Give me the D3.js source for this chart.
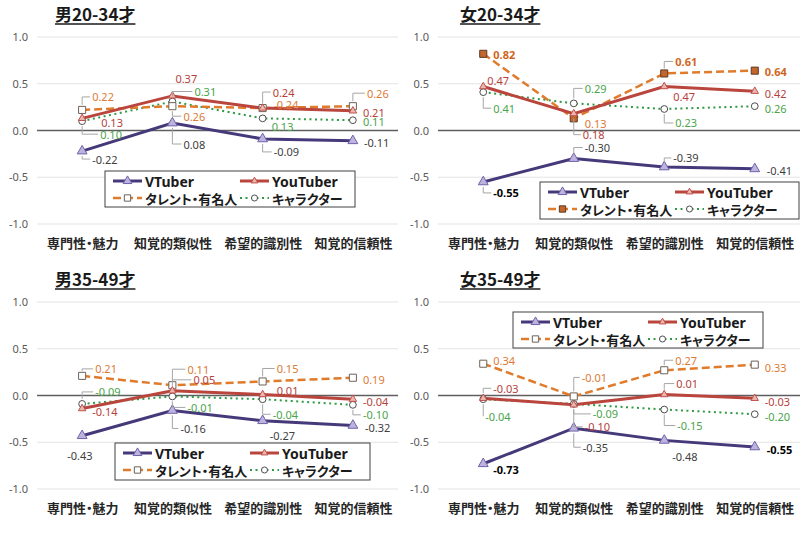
<!DOCTYPE html>
<html>
<head>
<meta charset="utf-8">
<script src="https://cdn.jsdelivr.net/npm/d3@7"></script>
<style>
body { margin: 0; background: #fff; }
svg { display: block; }
</style>
</head>
<body>
<svg id="chart" width="810" height="538"></svg>
<script>
// categories, series and panel titles
var categories = ["専門性・魅力", "知覚的類似性", "希望的識別性", "知覚的信頼性"];
var seriesNames = ["VTuber", "YouTuber", "タレント・有名人", "キャラクター"];
var panelTitles = ["男20-34才", "女20-34才", "男35-49才", "女35-49才"];
var yTicks = [1.0, 0.5, 0.0, -0.5, -1.0];

// values per series, one row per panel (男20-34, 女20-34, 男35-49, 女35-49)
var vtuber    = [[-0.22, 0.08, -0.09, -0.11], [-0.55, -0.30, -0.39, -0.41], [-0.43, -0.16, -0.27, -0.32], [-0.73, -0.35, -0.48, -0.55]];
var youtuber  = [[0.13, 0.37, 0.24, 0.21],   [0.47, 0.18, 0.47, 0.42],     [-0.14, 0.05, 0.01, -0.04],   [-0.03, -0.10, 0.01, -0.03]];
var talent    = [[0.22, 0.26, 0.24, 0.26],   [0.82, 0.13, 0.61, 0.64],     [0.21, 0.11, 0.15, 0.19],     [0.34, -0.01, 0.27, 0.33]];
var character = [[0.10, 0.31, 0.13, 0.11],   [0.41, 0.29, 0.23, 0.26],     [-0.09, -0.01, -0.04, -0.10], [-0.04, -0.09, -0.15, -0.20]];
var allSeries = [vtuber, youtuber, talent, character];

// panel layout
var panels = [
  {ox: 0,   oy: 0,   x0: 37, x1: 398, lg: [105, 171, 250, 36]},
  {ox: 405, oy: 0,   x0: 33, x1: 395, lg: [135, 182, 259, 37]},
  {ox: 0,   oy: 265, x0: 37, x1: 398, lg: [115, 178, 255, 37]},
  {ox: 405, oy: 265, x0: 33, x1: 395, lg: [108, 47, 250, 36]}
];

// data label offsets [dx, dy, leader] per panel / series / category
var labelPos = [
  [[[10,8,1],[11,21,1],[11,13,1],[11,2,0]],
   [[19,4,0],[3,-17,0],[10,-16,1],[10,2,0]],
   [[10,-13,1],[11,10,1],[14,-4,0],[14,-13,1]],
   [[18,13,1],[22,-10,1],[9,8,0],[10,1,0]]],
  [[[10,11,1],[11,-11,1],[9,-9,1],[12,2,0]],
   [[4,-6,0],[9,21,1],[9,10,0],[10,2,0]],
   [[10,1,0],[11,5,0],[11,-12,1],[10,1,0]],
   [[10,16,1],[11,-15,1],[11,14,1],[10,2,0]]],
  [[[-15,20,0],[8,18,1],[7,15,0],[12,2,0]],
   [[10,3,0],[21,-11,1],[14,-4,0],[10,2,0]],
   [[13,-7,1],[15,-16,1],[14,-13,1],[10,2,0]],
   [[13,-12,1],[15,11,1],[10,15,1],[10,10,1]]],
  [[[10,6,0],[9,19,1],[8,16,0],[12,3,0]],
   [[10,-10,1],[11,22,1],[12,-11,1],[10,3,0]],
   [[10,-3,0],[8,-19,1],[11,-10,1],[10,3,0]],
   [[2,17,1],[19,10,1],[13,16,1],[10,2,0]]]
];
var boldLabels = ["1-0-0", "1-2-0", "1-2-2", "1-2-3", "3-0-0", "3-0-3"];

var styles = [
  {color: "#46397a", width: 3,   dash: null,  sym: d3.symbolTriangle, size: 42, fill: "#bdb3de", stroke: "#6f63a8", label: "#404040"},
  {color: "#b9453d", width: 3,   dash: null,  sym: d3.symbolTriangle, size: 24, fill: "#eab7ad", stroke: "#c0504d", label: "#b5423c"},
  {color: "#e07b2c", width: 2.5, dash: "8,4", sym: d3.symbolSquare,   size: 50, fill: "#ffffff", stroke: "#6e6258", label: "#dd7a35"},
  {color: "#2f9a44", width: 2,   dash: "2,3.5", sym: d3.symbolCircle, size: 36, fill: "#ffffff", stroke: "#4d4d4d", label: "#4aa54a"}
];

var svg = d3.select("#chart");
var fmt = function (v) { return v.toFixed(2); };

function markerStyle(p, s) {
  var st = styles[s];
  if (p === 1 && s === 2) return {fill: "#c4652b", stroke: "#5b3a20"};
  return {fill: st.fill, stroke: st.stroke};
}

panels.forEach(function (pn, p) {
  var g = svg.append("g");
  var y = d3.scaleLinear().domain([-1, 1]).range([pn.oy + 224, pn.oy + 37]);
  var x = d3.scalePoint().domain(categories).range([pn.ox + pn.x0, pn.ox + pn.x1]).padding(0.5);

  // gridlines
  g.selectAll(".grid").data(yTicks.filter(function (d) { return d !== 0; })).enter()
    .append("line")
    .attr("x1", pn.ox + pn.x0).attr("x2", pn.ox + pn.x1)
    .attr("y1", function (d) { return y(d); }).attr("y2", function (d) { return y(d); })
    .style("stroke", "#e3e3e3").style("stroke-width", 1);

  // y axis
  var ya = g.append("g").attr("transform", "translate(" + (pn.ox + pn.x0 - 6) + ",0)")
    .call(d3.axisLeft(y).tickValues(yTicks).tickFormat(function (d) { return d.toFixed(1); }).tickSize(0));
  ya.select(".domain").remove();
  ya.selectAll("text").style("font-family", "'Noto Sans', sans-serif").style("font-size", "11px").style("fill", "#595959");

  // x axis labels
  var xa = g.append("g").attr("transform", "translate(0," + (pn.oy + 236) + ")")
    .call(d3.axisBottom(x).tickSize(0));
  xa.select(".domain").remove();
  xa.selectAll("text").style("font-family", "'Noto Sans CJK JP', sans-serif")
    .style("font-size", "13px").style("font-weight", "bold").style("fill", "#262626")
    .style("font-feature-settings", "'palt'");

  // zero line
  g.append("line")
    .attr("x1", pn.ox + pn.x0).attr("x2", pn.ox + pn.x1)
    .attr("y1", y(0)).attr("y2", y(0))
    .style("stroke", "#5f5f5f").style("stroke-width", 1.5);

  // title
  var t = g.append("text")
    .attr("x", pn.ox + 55).attr("y", pn.oy + 21)
    .style("font-family", "'Noto Sans CJK JP', sans-serif")
    .style("font-size", "17px").style("font-weight", "bold").style("fill", "#1a1a1a")
    .text(panelTitles[p]);
  var tw = t.node().getComputedTextLength();
  g.append("line")
    .attr("x1", pn.ox + 55).attr("x2", pn.ox + 55 + tw)
    .attr("y1", pn.oy + 24).attr("y2", pn.oy + 24)
    .style("stroke", "#1a1a1a").style("stroke-width", 1.3);

  var line = d3.line()
    .x(function (d, i) { return x(categories[i]); })
    .y(function (d) { return y(d); });

  // lines (draw in reverse so VTuber sits on top)
  [3, 2, 1, 0].forEach(function (s) {
    var st = styles[s];
    g.append("path")
      .attr("d", line(allSeries[s][p]))
      .style("fill", "none")
      .style("stroke", st.color)
      .style("stroke-width", st.width)
      .style("stroke-dasharray", st.dash);
  });

  // markers
  [3, 2, 1, 0].forEach(function (s) {
    var st = styles[s];
    var ms = markerStyle(p, s);
    g.selectAll(".m" + s).data(allSeries[s][p]).enter()
      .append("path")
      .attr("d", d3.symbol().type(st.sym).size(st.size))
      .attr("transform", function (d, i) { return "translate(" + x(categories[i]) + "," + y(d) + ")"; })
      .style("fill", ms.fill).style("stroke", ms.stroke).style("stroke-width", 1);
  });

  // leader lines and data labels
  allSeries.forEach(function (ser, s) {
    var st = styles[s];
    ser[p].forEach(function (v, i) {
      var off = labelPos[p][s][i];
      var px = x(categories[i]), py = y(v);
      var lx = px + off[0], ly = py + off[1];
      if (off[2]) {
        var sg = off[1] > 0 ? 1 : -1;
        g.append("path")
          .attr("d", "M" + px + "," + (py + sg * 5) + "V" + ly + "H" + (lx - 2))
          .style("fill", "none").style("stroke", "#a6a6a6").style("stroke-width", 1);
      }
      var bold = boldLabels.indexOf(p + "-" + s + "-" + i) >= 0;
      var col = st.label;
      if (bold && s === 0) col = "#000000";
      if (bold && s === 2) col = "#d0661e";
      g.append("text")
        .attr("x", lx).attr("y", ly)
        .attr("dominant-baseline", "central")
        .style("font-family", "'Noto Sans', sans-serif")
        .style("font-size", "11px")
        .style("font-weight", bold ? "bold" : "normal")
        .style("fill", col)
        .text(fmt(v));
    });
  });

  // legend
  var lg = pn.lg;
  var lx0 = pn.ox + lg[0], ly0 = pn.oy + lg[1];
  g.append("rect")
    .attr("x", lx0).attr("y", ly0).attr("width", lg[2]).attr("height", lg[3])
    .style("fill", "#ffffff").style("stroke", "#404040").style("stroke-width", 1);
  seriesNames.forEach(function (name, s) {
    var st = styles[s];
    var ms = markerStyle(p, s);
    var cx = lx0 + (s % 2 === 0 ? 8 : 135);
    var cy = ly0 + (s < 2 ? 10 : 27);
    g.append("line")
      .attr("x1", cx).attr("x2", cx + 29).attr("y1", cy).attr("y2", cy)
      .style("stroke", st.color).style("stroke-width", st.width)
      .style("stroke-dasharray", st.dash);
    g.append("path")
      .attr("d", d3.symbol().type(st.sym).size(st.size * 0.8))
      .attr("transform", "translate(" + (cx + 14.5) + "," + cy + ")")
      .style("fill", ms.fill).style("stroke", ms.stroke).style("stroke-width", 1);
    g.append("text")
      .attr("x", cx + 32).attr("y", cy)
      .attr("dominant-baseline", "central")
      .style("font-family", s < 2 ? "'Noto Sans', sans-serif" : "'Noto Sans CJK JP', sans-serif")
      .style("font-size", s < 2 ? "14px" : "13px").style("font-weight", "bold").style("fill", "#1a1a1a")
      .style("font-feature-settings", "'palt'")
      .text(name);
  });
});
</script>
</body>
</html>
